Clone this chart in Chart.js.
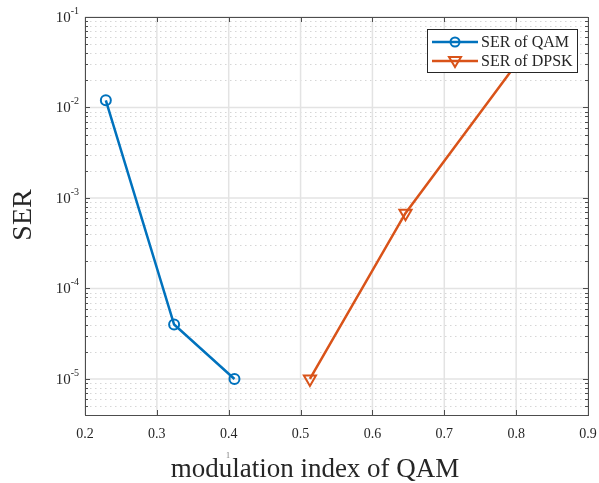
<!DOCTYPE html>
<html lang="en">
<head>
  <meta charset="UTF-8" />
  <title>SER vs modulation index</title>
  <script src="https://cdn.jsdelivr.net/npm/chart.js"></script>
  <style>
    body { margin: 0; background: #fff; }
    .wrap { width: 599px; height: 483px; }
  </style>
</head>
<body>
  <div class="wrap"><canvas id="serChart" width="599" height="483"></canvas></div>

  <script>
    // data
    const qamX = [0.229, 0.324, 0.408];
    const qamSer = [1.2e-2, 4.0e-5, 1.0e-5];
    const dpskX = [0.513, 0.646, 0.80];
    const dpskSer = [1.0e-5, 6.8e-4, 3.0e-2];

    const xTicks = [0.2, 0.3, 0.4, 0.5, 0.6, 0.7, 0.8, 0.9];
    const yDecades = [-5, -4, -3, -2, -1];
    const seriesNames = ['SER of QAM', 'SER of DPSK'];

    const blue = '#0072BD';
    const orange = '#D95319';
    const axisColor = '#4d4d4d';
    const textColor = '#262626';
    const serif = '"Liberation Serif", "Times New Roman", serif';

    function toPoints(xs, ys) {
      return xs.map((x, i) => ({ x: x, y: ys[i] }));
    }

    // grid lines behind the data
    const gridPlugin = {
      id: 'matlabGrid',
      beforeDatasetsDraw(chart) {
        const { ctx, chartArea: a, scales: { x, y } } = chart;
        ctx.save();
        // minor horizontal dotted lines
        ctx.strokeStyle = '#d6d6d6';
        ctx.lineWidth = 1;
        ctx.setLineDash([1.5, 3.5]);
        for (let e = -6; e <= -1; e++) {
          for (let m = 2; m <= 9; m++) {
            const v = m * Math.pow(10, e);
            if (v < y.min || v > y.max) continue;
            const py = Math.round(y.getPixelForValue(v)) + 0.5;
            ctx.beginPath();
            ctx.moveTo(a.left, py);
            ctx.lineTo(a.right, py);
            ctx.stroke();
          }
        }
        // major grid
        ctx.setLineDash([]);
        ctx.strokeStyle = '#e3e3e3';
        ctx.lineWidth = 1.5;
        xTicks.forEach(t => {
          const px = x.getPixelForValue(t);
          ctx.beginPath();
          ctx.moveTo(px, a.top);
          ctx.lineTo(px, a.bottom);
          ctx.stroke();
        });
        yDecades.forEach(e => {
          const py = y.getPixelForValue(Math.pow(10, e));
          ctx.beginPath();
          ctx.moveTo(a.left, py);
          ctx.lineTo(a.right, py);
          ctx.stroke();
        });
        ctx.restore();
      }
    };

    // axes box, ticks, labels, legend
    const framePlugin = {
      id: 'matlabFrame',
      afterDatasetsDraw(chart) {
        const { ctx, chartArea: a, scales: { x, y } } = chart;
        ctx.save();
        ctx.strokeStyle = axisColor;
        ctx.lineWidth = 1;
        ctx.strokeRect(Math.round(a.left) + 0.5, Math.round(a.top) + 0.5,
          Math.round(a.right - a.left), Math.round(a.bottom - a.top));

        // x ticks (bottom and top, pointing in)
        ctx.beginPath();
        xTicks.forEach(t => {
          const px = Math.round(x.getPixelForValue(t)) + 0.5;
          ctx.moveTo(px, a.bottom); ctx.lineTo(px, a.bottom - 5);
          ctx.moveTo(px, a.top); ctx.lineTo(px, a.top + 5);
        });
        // y ticks, major and minor, left and right
        for (let e = -6; e <= -1; e++) {
          for (let m = 1; m <= 9; m++) {
            const v = m * Math.pow(10, e);
            if (v < y.min || v > y.max) continue;
            const len = m === 1 ? 5 : 3;
            const py = Math.round(y.getPixelForValue(v)) + 0.5;
            ctx.moveTo(a.left, py); ctx.lineTo(a.left + len, py);
            ctx.moveTo(a.right, py); ctx.lineTo(a.right - len, py);
          }
        }
        ctx.stroke();

        // tick labels
        ctx.fillStyle = textColor;
        ctx.font = '14px ' + serif;
        ctx.textAlign = 'center';
        ctx.textBaseline = 'alphabetic';
        xTicks.forEach(t => {
          ctx.fillText(t.toFixed(1), x.getPixelForValue(t), a.bottom + 23);
        });
        yDecades.forEach(e => {
          const py = y.getPixelForValue(Math.pow(10, e));
          const sup = String(e);
          ctx.font = '10px ' + serif;
          const supW = ctx.measureText(sup).width;
          ctx.textAlign = 'right';
          ctx.fillText(sup, a.left - 6, py - 3);
          ctx.font = '15px ' + serif;
          ctx.fillText('10', a.left - 6 - supW, py + 5);
        });

        // stray small mark under the x axis
        ctx.font = '8px ' + serif;
        ctx.textAlign = 'center';
        ctx.fillStyle = '#777';
        ctx.fillText('1', 228, 458);

        // axis titles
        ctx.fillStyle = textColor;
        ctx.font = '27px ' + serif;
        ctx.textAlign = 'center';
        ctx.fillText('modulation index of QAM', 315, 477);
        ctx.save();
        ctx.translate(31, 215);
        ctx.rotate(-Math.PI / 2);
        ctx.font = '28px ' + serif;
        ctx.fillText('SER', 0, 0);
        ctx.restore();

        // legend box (drawn over the data like MATLAB's)
        const lx = 427, ly = 29, lw = 150, lh = 43;
        ctx.fillStyle = '#fff';
        ctx.fillRect(lx, ly, lw, lh);
        ctx.strokeStyle = textColor;
        ctx.lineWidth = 1;
        ctx.strokeRect(lx + 0.5, ly + 0.5, lw, lh);
        const rows = [
          { name: seriesNames[0], color: blue, y: 42, marker: 'circle' },
          { name: seriesNames[1], color: orange, y: 61, marker: 'tri' }
        ];
        rows.forEach(r => {
          ctx.strokeStyle = r.color;
          ctx.lineWidth = 2.5;
          ctx.beginPath();
          ctx.moveTo(432, r.y); ctx.lineTo(478, r.y);
          ctx.stroke();
          ctx.lineWidth = 2;
          ctx.beginPath();
          if (r.marker === 'circle') {
            ctx.arc(455, r.y, 4.5, 0, Math.PI * 2);
          } else {
            ctx.moveTo(449, r.y - 4);
            ctx.lineTo(461, r.y - 4);
            ctx.lineTo(455, r.y + 6);
            ctx.closePath();
          }
          ctx.stroke();
          ctx.fillStyle = textColor;
          ctx.font = '16px ' + serif;
          ctx.textAlign = 'left';
          ctx.fillText(r.name, 481, r.y + 5);
        });
        ctx.restore();
      }
    };

    new Chart(document.getElementById('serChart'), {
      type: 'line',
      data: {
        datasets: [
          {
            label: seriesNames[0],
            data: toPoints(qamX, qamSer),
            borderColor: blue,
            borderWidth: 2.5,
            pointStyle: 'circle',
            pointRadius: 5,
            pointBorderWidth: 2,
            pointBorderColor: blue,
            pointBackgroundColor: 'rgba(0,0,0,0)',
            tension: 0
          },
          {
            label: seriesNames[1],
            data: toPoints(dpskX, dpskSer),
            borderColor: orange,
            borderWidth: 2.5,
            pointStyle: 'triangle',
            pointRotation: 180,
            pointRadius: 7,
            pointBorderWidth: 2,
            pointBorderColor: orange,
            pointBackgroundColor: 'rgba(0,0,0,0)',
            tension: 0
          }
        ]
      },
      options: {
        responsive: false,
        animation: false,
        layout: { padding: { left: 85, top: 17, right: 11, bottom: 68 } },
        plugins: { legend: { display: false }, tooltip: { enabled: false } },
        scales: {
          x: { type: 'linear', min: 0.2, max: 0.9, display: false },
          y: { type: 'logarithmic', min: 4e-6, max: 0.1, display: false }
        }
      },
      plugins: [gridPlugin, framePlugin]
    });
  </script>
</body>
</html>
